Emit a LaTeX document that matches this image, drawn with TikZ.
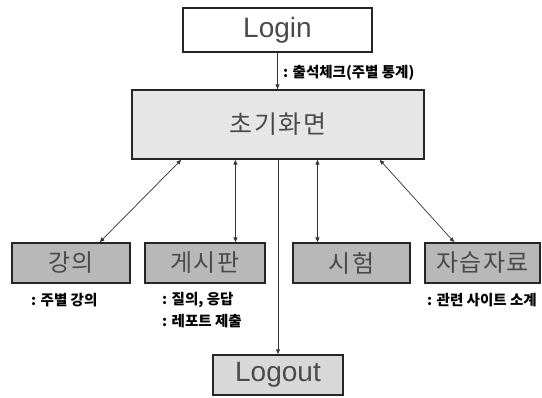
\documentclass[tikz,border=0pt]{standalone}
\usepackage{fontspec}
\setmainfont{Liberation Sans}
\newfontfamily\kr{Noto Sans CJK KR}
\newfontfamily\krbox[LetterSpace=6]{Noto Sans CJK KR}
\usetikzlibrary{arrows.meta,shadows}
\definecolor{txtgray}{HTML}{4A4A4A}
\definecolor{mainfill}{HTML}{E6E6E6}
\definecolor{subfill}{HTML}{B8B8B8}
\definecolor{outfill}{HTML}{D8D8D8}
\tikzset{
  boxbase/.style={draw=black!85, line width=1.1pt, inner sep=0pt, text=txtgray,
    drop shadow={shadow xshift=1.2pt, shadow yshift=-1.2pt, fill=black!65, opacity=1}},
  loginbox/.style={boxbase, fill=white, minimum width=189pt, minimum height=44pt, font=\fontsize{28}{30}\selectfont},
  mainbox/.style={boxbase, fill=mainfill, minimum width=292pt, minimum height=69pt, font=\krbox\fontsize{25}{28}\selectfont},
  subbox/.style={boxbase, fill=subfill, minimum height=40pt, font=\krbox\fontsize{24}{26}\selectfont},
  outbox/.style={boxbase, fill=outfill, minimum width=130pt, minimum height=40pt, font=\fontsize{28}{30}\selectfont},
  note/.style={inner sep=0pt, font=\kr\bfseries\fontsize{14.5}{16}\selectfont, anchor=west},
  conn/.style={draw=black!80, line width=0.7pt},
  tip/.style={-{Latex[length=5pt,width=4.5pt]}},
  tips/.style={{Latex[length=5pt,width=4.5pt]}-{Latex[length=5pt,width=4.5pt]}}
}
\begin{document}
\begin{tikzpicture}[x=1pt,y=-1pt]
\useasboundingbox (0,0) rectangle (542,398);
\node[loginbox] (login) at (277.5,30) {Login};
\node[mainbox] (main) at (278,124.5) {초기화면};
\node[subbox, minimum width=118pt] (lec) at (71,263) {강의};
\node[subbox, minimum width=120pt] (board) at (205,263) {게시판};
\node[subbox, minimum width=117pt] (exam) at (351.5,263) {시험};
\node[subbox, minimum width=115pt] (self) at (482.5,263) {자습자료};
\node[outbox] (logout) at (278,375) {Logout};

\node[note] (n0) at (283,73) {: 출석체크(주별 통계)};
\node[note] (n1) at (31,300) {: 주별 강의};
\node[note] (n2) at (162,300) {: 질의, 응답};
\node[note] (n3) at (162,321) {: 레포트 제출};
\node[note] (n4) at (427,300) {: 관련 사이트 소계};

\draw[conn,tip] (login.south) -- (login.south |- main.north);
\draw[conn,tip] (main.south) -- (logout.north);
\draw[conn,tips] ([xshift=50pt]main.south west) -- ([xshift=88pt]lec.north west);
\draw[conn,tips] ([xshift=104pt]main.south west) -- ([xshift=91pt]board.north west);
\draw[conn,tips] ([xshift=186pt]main.south west) -- ([xshift=25pt]exam.north west);
\draw[conn,tips] ([xshift=248pt]main.south west) -- ([xshift=30pt]self.north west);
\end{tikzpicture}
\end{document}
